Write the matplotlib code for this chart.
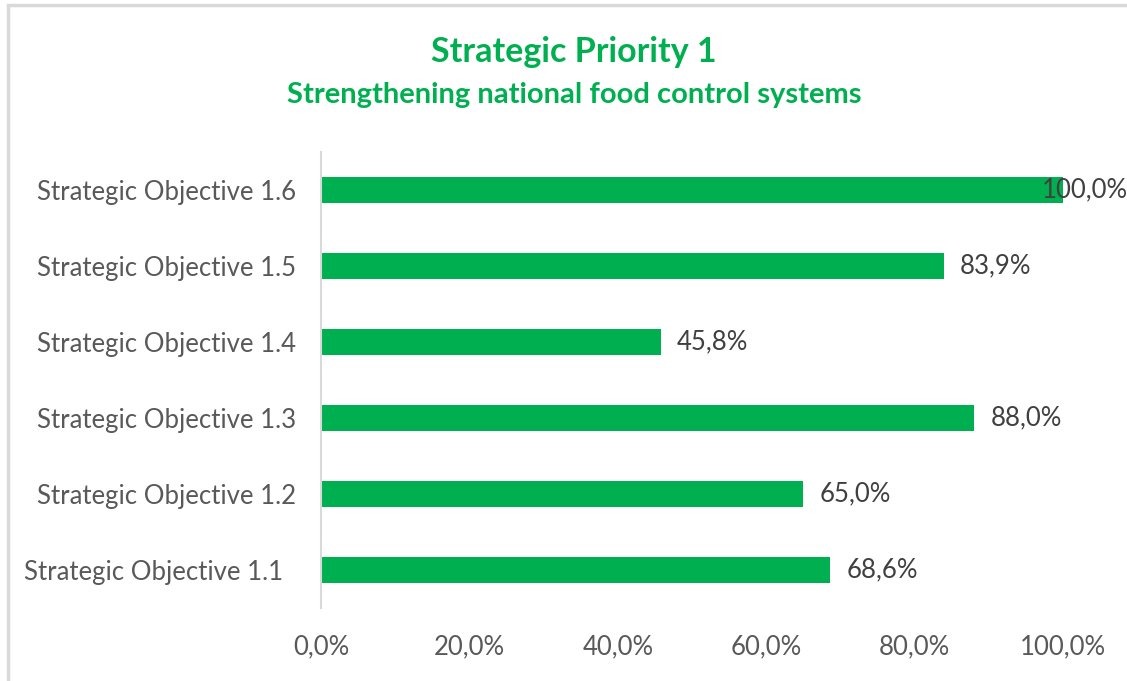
import matplotlib.pyplot as plt
from matplotlib.patches import Rectangle

# data
labels = ['Strategic Objective 1.1  ', 'Strategic Objective 1.2', 'Strategic Objective 1.3',
          'Strategic Objective 1.4', 'Strategic Objective 1.5', 'Strategic Objective 1.6']
values = [68.6, 65.0, 88.0, 45.8, 83.9, 100.0]
xticks = [0, 20, 40, 60, 80, 100]

green = '#00B050'
plt.rcParams['font.family'] = ['Lato', 'DejaVu Sans']

fig = plt.figure(figsize=(11.27, 6.81), dpi=100)
ax = fig.add_axes([321 / 1127, 1 - 608 / 681, (1063 - 321) / 1127, (608 - 152) / 681])

ypos = range(len(values))
ax.barh(ypos, values, height=0.34, color=green)
for y, v in zip(ypos, values):
    # excel pulls the label back in when it would run off the chart
    ax.text(min(v + 2.2, 97.2), y, ('%.1f%%' % v).replace('.', ','), va='center', ha='left',
            fontsize=18.5, color='#404040', clip_on=False)

ax.set_xlim(0, 100)
ax.set_ylim(-0.5, 5.5)
ax.set_yticks(ypos)
ax.set_yticklabels(labels, fontsize=18.5, color='#595959')
ax.set_xticks(xticks)
ax.set_xticklabels([('%.1f%%' % t).replace('.', ',') for t in xticks], fontsize=18.5, color='#595959')
ax.tick_params(length=0)
ax.tick_params(axis='y', pad=18)
ax.tick_params(axis='x', pad=19)
for s in ['top', 'right', 'bottom']:
    ax.spines[s].set_visible(False)
ax.spines['left'].set_color('#d9d9d9')
ax.spines['left'].set_linewidth(1.5)

fig.text(574 / 1127, 1 - 52 / 681, 'Strategic Priority 1', ha='center', va='center',
         fontsize=24.5, fontweight='bold', color=green)
fig.text(574 / 1127, 1 - 95 / 681, 'Strengthening national food control systems', ha='center',
         va='center', fontsize=21, fontweight='bold', color=green)

fig.patches.append(Rectangle((8 / 1127, -0.1), 1.2, 1 - 5 / 681 + 0.1, transform=fig.transFigure,
                             fill=False, edgecolor='#d9d9d9', linewidth=2.5))

fig.savefig('out.png', dpi=100)
